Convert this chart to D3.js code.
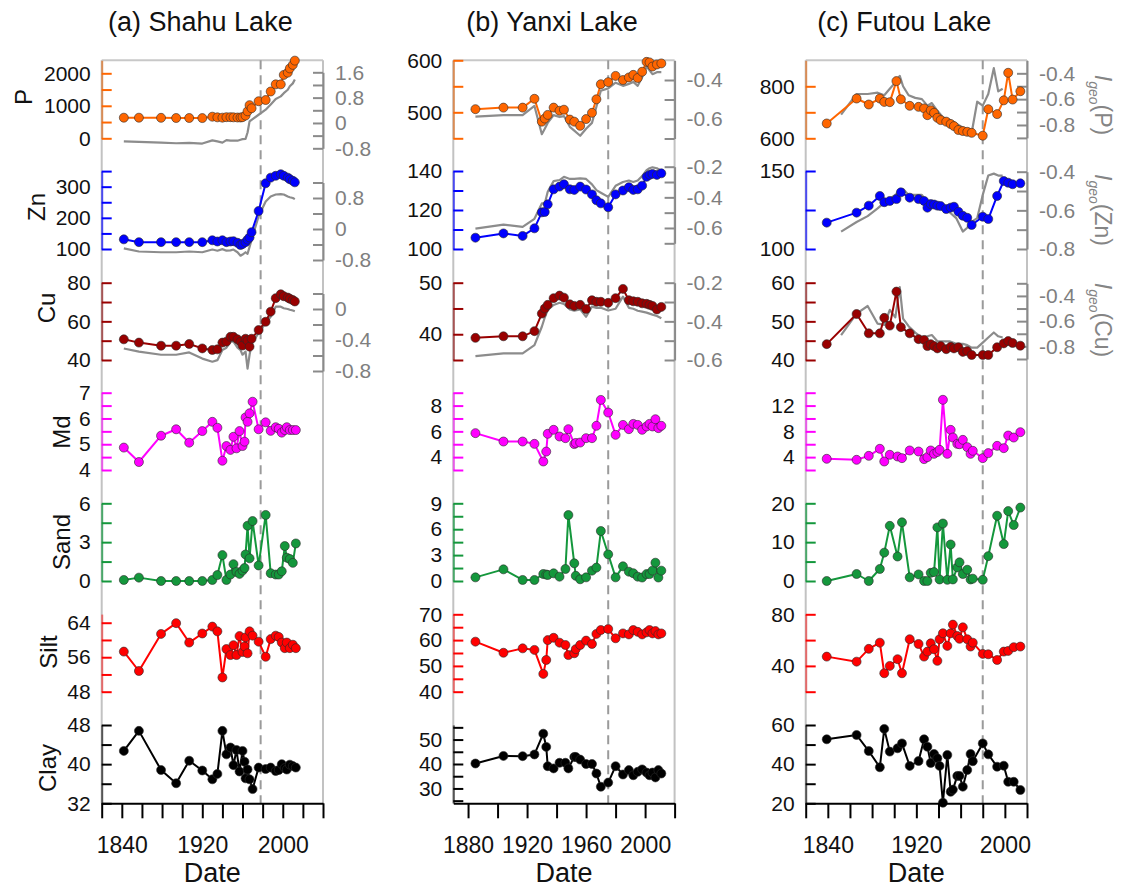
<!DOCTYPE html>
<html>
<head>
<meta charset="utf-8">
<script src="https://cdn.jsdelivr.net/npm/d3@7"></script>
<style>
  body { margin: 0; background: #fff; }
  svg text { font-family: "Liberation Sans", Arial, Helvetica, sans-serif; }
</style>
</head>
<body>
<svg id="chart" width="1126" height="890"></svg>
<script>
// ---------------- Shahu Lake ----------------
const shahuMetalYears = [1842, 1857, 1879, 1894, 1907, 1920, 1930, 1935, 1940, 1944, 1948, 1951, 1955, 1958, 1960, 1963, 1965, 1967, 1969, 1976, 1983, 1988, 1993, 1998, 2001, 2005, 2007, 2010, 2012];
const shahuP = [634, 634, 630, 625, 625, 622, 665, 645, 635, 650, 650, 645, 640, 640, 650, 700, 830, 1020, 925, 1140, 1178, 1440, 1660, 1660, 1950, 2020, 2150, 2260, 2390];
const shahuIgeoP = [-0.58, -0.6, -0.62, -0.64, -0.63, -0.65, -0.55, -0.58, -0.62, -0.54, -0.56, -0.56, -0.56, -0.53, -0.51, -0.5, -0.3, 0.05, 0.1, 0.26, 0.42, 0.58, 0.76, 0.84, 0.94, 1.05, 1.16, 1.25, 1.37];
const shahuZn = [131, 122, 122, 122, 122, 122, 128, 124, 128, 122, 124, 125, 120, 113, 116, 122, 130, 137, 154, 222, 311, 329, 335, 340, 335, 329, 324, 319, 314];
const shahuIgeoZn = [-0.5, -0.58, -0.6, -0.6, -0.58, -0.6, -0.53, -0.56, -0.52, -0.56, -0.55, -0.53, -0.6, -0.69, -0.66, -0.6, -0.64, -0.46, -0.28, 0.33, 0.71, 0.84, 0.89, 0.9, 0.89, 0.84, 0.82, 0.8, 0.77];
const shahuCu = [50.7, 49, 47.4, 47.4, 48.3, 46, 45.2, 45.5, 49, 49.5, 52, 52, 50.7, 49.4, 47.5, 51, 50, 46.9, 51, 55.5, 59.8, 65, 72, 74, 73, 72.3, 71.7, 71, 70.3];
const shahuIgeoCu = [-0.51, -0.55, -0.59, -0.59, -0.56, -0.64, -0.68, -0.66, -0.53, -0.5, -0.42, -0.42, -0.5, -0.53, -0.59, -0.55, -0.77, -0.59, -0.45, -0.31, -0.18, -0.1, 0.03, 0.03, 0.01, 0, -0.01, -0.02, -0.03];

const shahuGrainYears = [1842, 1857, 1879, 1894, 1907, 1920, 1930, 1935, 1940, 1944, 1948, 1951, 1954, 1957, 1960, 1962, 1963, 1965, 1967, 1970, 1976, 1983, 1988, 1993, 1996, 1999, 2002, 2004, 2007, 2010, 2013];
const shahuMd = [4.87, 4.31, 5.33, 5.58, 5.06, 5.51, 5.87, 5.64, 4.36, 4.93, 4.78, 5.29, 4.84, 5.51, 4.93, 5.1, 6.04, 5.87, 6.2, 6.65, 5.58, 5.85, 5.52, 5.66, 5.6, 5.45, 5.55, 5.66, 5.55, 5.55, 5.55];
const shahuSand = [0.08, 0.26, 0, 0, 0, 0, 0.08, 0.46, 2.0, 0.08, 0.5, 1.3, 0.7, 0.55, 0.8, 1.0, 2.05, 4.27, 1.75, 4.63, 1.2, 5.1, 0.6, 0.5, 0.5, 0.75, 2.7, 1.8, 1.7, 1.4, 2.9];
const shahuSilt = [57.3, 52.8, 61.4, 63.9, 59.4, 61.5, 63.1, 62, 51.3, 57.9, 56.5, 58.8, 56.5, 60.9, 57.2, 58.5, 60.6, 56.9, 62, 61, 59.6, 56.1, 60.2, 61, 60.7, 59.4, 58.1, 59.4, 58.1, 58.9, 58.1];
const shahuClay = [42.7, 46.8, 38.8, 36.1, 40.7, 38.7, 36.9, 38, 46.8, 42, 43.4, 39.8, 42.9, 38.5, 42.7, 40.5, 37.1, 38.9, 36.9, 34.9, 39.3, 39, 39.3, 38.6, 38.8, 40, 39.2, 38.9, 39.9, 39.6, 39.3];

// ---------------- Yanxi Lake ----------------
const yanxiMetalYears = [1885, 1904, 1917, 1925, 1930, 1932, 1934, 1938, 1942, 1945, 1949, 1952, 1956, 1960, 1964, 1967, 1970, 1975, 1980, 1985, 1989, 1992, 1995, 1998, 2001, 2003, 2005, 2008, 2011];
const yanxiP = [506, 509, 509, 526, 482, 488, 495, 509, 503, 505, 486, 482, 474, 487, 499, 525, 554, 558, 570, 562, 567, 572, 566, 578, 597, 596, 588, 592, 594];
const yanxiIgeoP = [-0.588, -0.58, -0.58, -0.533, -0.678, -0.65, -0.62, -0.58, -0.59, -0.585, -0.64, -0.66, -0.686, -0.65, -0.62, -0.537, -0.455, -0.443, -0.414, -0.43, -0.42, -0.41, -0.43, -0.386, -0.33, -0.35, -0.37, -0.36, -0.36];
const yanxiZn = [105.8, 108, 106.7, 110.6, 118.8, 119, 122.9, 130.6, 132, 133.2, 130.6, 130.3, 132, 130.5, 128, 125, 123.4, 121.4, 128, 130, 131.7, 130.3, 130.6, 132.5, 137, 138, 138.5, 138, 138.8];
const yanxiIgeoZn = [-0.604, -0.578, -0.593, -0.54, -0.44, -0.44, -0.364, -0.294, -0.287, -0.266, -0.28, -0.28, -0.276, -0.28, -0.315, -0.353, -0.37, -0.397, -0.325, -0.3, -0.29, -0.3, -0.29, -0.261, -0.222, -0.21, -0.204, -0.21, -0.228];
const yanxiCu = [39.3, 39.6, 39.6, 40.6, 44, 45, 45.7, 47, 47.5, 47.1, 45.8, 45.5, 45.7, 44.9, 46.6, 46.3, 46.3, 46.1, 47, 48.8, 46.6, 46.4, 46.3, 46, 45.9, 45.7, 45.5, 44.8, 45.3];
const yanxiIgeoCu = [-0.58, -0.566, -0.566, -0.523, -0.428, -0.38, -0.341, -0.315, -0.304, -0.31, -0.338, -0.345, -0.338, -0.376, -0.324, -0.33, -0.33, -0.344, -0.335, -0.272, -0.33, -0.335, -0.345, -0.35, -0.355, -0.36, -0.365, -0.372, -0.384];

const yanxiGrainYears = [1885, 1904, 1917, 1925, 1931, 1933, 1934, 1938, 1942, 1946, 1948, 1952, 1953, 1956, 1960, 1964, 1967, 1970, 1975, 1980, 1985, 1989, 1992, 1995, 1998, 2001, 2003, 2005, 2007, 2009, 2011];
const yanxiMd = [5.86, 5.21, 5.21, 5.03, 3.66, 4.43, 5.81, 6.12, 5.6, 5.47, 6.17, 5.01, 5.1, 5.13, 5.47, 5.47, 6.43, 8.44, 7.46, 5.73, 6.5, 6.17, 6.58, 6.5, 6.12, 6.38, 6.58, 6.38, 6.94, 6.25, 6.43];
const yanxiSand = [0.42, 1.35, 0.12, 0.12, 0.81, 0.75, 0.7, 0.89, 0.5, 1.39, 7.64, 2.05, 0.6, 0.2, 0.42, 1.2, 1.55, 5.79, 3.09, 0.42, 1.7, 1.08, 0.9, 0.5, 0.4, 0.8, 0.8, 1.2, 2.12, 0.4, 1.2];
const yanxiSilt = [59.4, 55.1, 56.8, 56.2, 46.9, 52.3, 60, 60.9, 59, 58.1, 54.2, 54.9, 56.5, 58.1, 59.8, 58.5, 62.4, 63.9, 64.3, 60.7, 62.6, 62.2, 63.9, 63.2, 62.2, 63, 63.9, 62.6, 63.5, 62.2, 62.6];
const yanxiClay = [40.2, 43.3, 43.2, 43.9, 52.4, 47, 39.1, 38.2, 40.5, 40.5, 38.2, 42.9, 42.9, 41.8, 40, 40, 36.1, 30.7, 32.4, 39.1, 35.7, 37.5, 35.4, 36.8, 37.8, 36.5, 35.4, 36.5, 34.5, 37.5, 36.1];

// ---------------- Futou Lake ----------------
const futouMetalYears = [1839, 1866, 1877, 1887, 1891, 1896, 1902, 1906, 1914, 1922, 1927, 1930, 1933, 1936, 1939, 1942, 1947, 1951, 1954, 1958, 1962, 1966, 1970, 1980, 1985, 1993, 1999, 2003, 2007, 2014];
const futouP = [657, 753, 730, 753, 740, 739, 820, 750, 725, 721, 715, 689, 708, 698, 679, 670, 664, 655, 647, 632, 628, 625, 621, 610, 712, 693, 746, 852, 749, 781];
const futouZn = [116.9, 123.3, 127.8, 134, 130, 130.8, 132, 136.3, 132.9, 132, 130.8, 126.5, 128.8, 128.5, 127.8, 127.5, 125.6, 126.5, 127.1, 123.9, 121.3, 120, 115.4, 120.7, 119.2, 134, 143.6, 142.5, 141.5, 142.1];
const futouCu = [44.1, 51.9, 46.9, 46.9, 50.9, 48.9, 57.7, 48.5, 46.9, 45.4, 45.2, 43.6, 44.1, 43.6, 43, 43.6, 42.8, 43.4, 43, 43.3, 42.1, 42.3, 41.3, 41.3, 41.3, 43.3, 44.3, 44.9, 44.4, 43.7];

const futouIgeoYears = [1852, 1866, 1876, 1885, 1891, 1896, 1901, 1905, 1908, 1913, 1919, 1925, 1930, 1934, 1939, 1944, 1950, 1956, 1962, 1966, 1970, 1975, 1980, 1985, 1990, 1994, 1998];
const futouIgeoP = [-0.72, -0.56, -0.56, -0.55, -0.57, -0.52, -0.47, -0.42, -0.5, -0.57, -0.59, -0.6, -0.65, -0.63, -0.69, -0.74, -0.76, -0.79, -0.82, -0.84, -0.86, -0.62, -0.65, -0.56, -0.36, -0.54, -0.52];
const futouIgeoZn = [-0.71, -0.66, -0.63, -0.59, -0.56, -0.54, -0.52, -0.5, -0.49, -0.52, -0.52, -0.52, -0.56, -0.56, -0.57, -0.58, -0.61, -0.64, -0.71, -0.69, -0.66, -0.64, -0.52, -0.42, -0.41, -0.42, -0.42];
const futouIgeoCu = [-0.71, -0.54, -0.48, -0.62, -0.63, -0.51, -0.57, -0.33, -0.58, -0.64, -0.69, -0.73, -0.72, -0.71, -0.76, -0.76, -0.76, -0.78, -0.78, -0.79, -0.81, -0.81, -0.77, -0.73, -0.69, -0.72, -0.73];

const futouGrainYears = [1839, 1866, 1877, 1887, 1891, 1896, 1903, 1907, 1914, 1922, 1927, 1930, 1933, 1936, 1939, 1941, 1944, 1948, 1951, 1953, 1957, 1959, 1962, 1966, 1969, 1971, 1980, 1985, 1993, 1999, 2003, 2008, 2014];
const futouMd = [3.74, 3.58, 4.2, 5.29, 3.32, 4.36, 4.1, 3.84, 5.03, 4.87, 3.69, 4.0, 5.03, 4.51, 4.8, 5.13, 12.9, 4.51, 8.23, 7.04, 6.06, 6.0, 6.68, 5.55, 4.51, 4.98, 3.84, 4.62, 5.75, 5.39, 7.35, 7.04, 7.87];
const futouSand = [0, 1.8, 0, 3.1, 7.3, 14.2, 6.3, 15.1, 0.94, 1.7, 0, 0, 2.1, 2.3, 13.8, 0.4, 14.8, 0.3, 9.4, 0.4, 3.5, 4.8, 1.8, 2.9, 0.4, 0.6, 0.3, 6.4, 16.8, 9.5, 18, 14.4, 18.9];
const futouSilt = [47.2, 43.3, 53.2, 58, 34.3, 40, 45.2, 34.3, 60.7, 57, 47.2, 51.1, 57.5, 52.9, 43.9, 60.7, 65.3, 55.5, 65.3, 72, 63.2, 61, 69.9, 60.7, 55, 58, 49.3, 49, 44.6, 51.1, 51.6, 54.5, 55];
const futouClay = [52.7, 54.9, 46.7, 38.4, 58, 46.4, 48.1, 50.6, 39.1, 41.6, 52.7, 48.9, 40.6, 45.2, 43, 39.1, 20.3, 44.7, 25.9, 27, 34, 34, 28.5, 37, 45.2, 41.5, 50.6, 45, 38.7, 39.2, 31, 31, 26.8];

// Reference years marked with a dashed line, and x-axis settings
const lakeTitles = ["(a) Shahu Lake", "(b) Yanxi Lake", "(c) Futou Lake"];
const dashYears = [1978, 1975, 1980];
const xDomains = [[1820, 2040], [1870, 2020], [1820, 2020]];
const xTickValues = [d3.range(1820, 2041, 20), d3.range(1880, 2021, 20), d3.range(1820, 2021, 20)];
const xTickLabels = [[1840, 1920, 2000], [1880, 1920, 1960, 2000], [1840, 1920, 2000]];
const rowNames = ["P", "Zn", "Cu", "Md", "Sand", "Silt", "Clay"];
const igeoNames = ["P", "Zn", "Cu"];

// ---------------- layout ----------------
const COLORS = { P: "#ff6600", Zn: "#0000ff", Cu: "#990000", Md: "#ff00ff", Sand: "#14973c", Silt: "#ff0000", Clay: "#000000" };
const AXIS_COLORS = { P: "#d98c55", Zn: "#4a4af0", Cu: "#a65555", Md: "#e85ce8", Sand: "#4aa86a", Silt: "#e46a6a", Clay: "#555555" };
const GREY = "#8a8a8a";
const panelLefts = [101.7, 453.3, 805.7];
const panelW = 221.3;
const topY = 60.3, baseY = 803.3;

// left-axis layout per panel: value extent, pixel extent, tick [lo, hi, step], label spacing
const leftAxes = [
  {
    P:    { dom: [0, 2400], rng: [138.3, 60.3], t: [0, 2000, 500], lab: 1000 },
    Zn:   { dom: [100, 350], rng: [249, 171.1], t: [100, 350, 50], lab: 100 },
    Cu:   { dom: [40, 80], rng: [360, 282.7], t: [40, 80, 10], lab: 20 },
    Md:   { dom: [4, 7], rng: [470, 392.7], t: [4, 7, 0.5], lab: 1 },
    Sand: { dom: [0, 6], rng: [581, 503.3], t: [0, 6, 1.5], lab: 3 },
    Silt: { dom: [48, 66], rng: [691.7, 614.1], t: [48, 64, 4], lab: 8 },
    Clay: { dom: [32, 48], rng: [803.3, 725], t: [32, 48, 4], lab: 8 }
  },
  {
    P:    { dom: [450, 600], rng: [138.3, 60.3], t: [450, 600, 50], lab: 100 },
    Zn:   { dom: [100, 140], rng: [249, 171], t: [100, 140, 10], lab: 20 },
    Cu:   { dom: [35, 50], rng: [360, 282.7], t: [35, 50, 5], lab: 10 },
    Md:   { dom: [3, 9], rng: [470, 392.7], t: [3, 9, 1], lab: 2 },
    Sand: { dom: [0, 9], rng: [581, 503.3], t: [0, 9, 1.5], lab: 3 },
    Silt: { dom: [40, 70], rng: [691.7, 614.3], t: [40, 70, 5], lab: 10 },
    Clay: { dom: [24, 56], rng: [803.1, 724.9], t: [25, 55, 5], lab: 10 }
  },
  {
    P:    { dom: [600, 900], rng: [138.3, 60.3], t: [600, 800, 100], lab: 200 },
    Zn:   { dom: [100, 150], rng: [249, 171], t: [100, 150, 25], lab: 50 },
    Cu:   { dom: [40, 60], rng: [360, 282.7], t: [40, 60, 5], lab: 10 },
    Md:   { dom: [2, 14], rng: [470, 392.7], t: [2, 14, 2], lab: 4 },
    Sand: { dom: [0, 20], rng: [581, 503.3], t: [0, 20, 5], lab: 10 },
    Silt: { dom: [20, 80], rng: [691.7, 614.3], t: [20, 80, 20], lab: 40 },
    Clay: { dom: [20, 60], rng: [803.3, 725], t: [20, 60, 10], lab: 20 }
  }
];
const rightAxes = [
  {
    P:  { dom: [-0.8, 1.6], rng: [148.3, 72.3], t: [-0.8, 1.6, 0.4], lab: 0.8 },
    Zn: { dom: [-0.8, 1.2], rng: [260, 182.5], t: [-0.8, 1.2, 0.4], lab: 0.8 },
    Cu: { dom: [-0.8, 0.2], rng: [371, 293.5], t: [-0.8, 0.2, 0.2], lab: 0.4 }
  },
  {
    P:  { dom: [-0.7, -0.3], rng: [138.5, 60.5], t: [-0.7, -0.4, 0.1], lab: 0.2 },
    Zn: { dom: [-0.7, -0.2], rng: [243.3, 166.7], t: [-0.7, -0.2, 0.1], lab: 0.2 },
    Cu: { dom: [-0.6, -0.2], rng: [360, 282.7], t: [-0.6, -0.2, 0.1], lab: 0.2 }
  },
  {
    P:  { dom: [-0.9, -0.3], rng: [137.9, 60.4], t: [-0.9, -0.4, 0.1], lab: 0.2 },
    Zn: { dom: [-0.8, -0.4], rng: [249, 171.7], t: [-0.8, -0.4, 0.1], lab: 0.2 },
    Cu: { dom: [-0.9, -0.3], rng: [359, 283.3], t: [-0.9, -0.3, 0.1], lab: 0.2 }
  }
];

const lakes = [
  { metalYears: shahuMetalYears, igeoYears: shahuMetalYears, grainYears: shahuGrainYears,
    series: { P: shahuP, Zn: shahuZn, Cu: shahuCu, Md: shahuMd, Sand: shahuSand, Silt: shahuSilt, Clay: shahuClay },
    igeo: { P: shahuIgeoP, Zn: shahuIgeoZn, Cu: shahuIgeoCu } },
  { metalYears: yanxiMetalYears, igeoYears: yanxiMetalYears, grainYears: yanxiGrainYears,
    series: { P: yanxiP, Zn: yanxiZn, Cu: yanxiCu, Md: yanxiMd, Sand: yanxiSand, Silt: yanxiSilt, Clay: yanxiClay },
    igeo: { P: yanxiIgeoP, Zn: yanxiIgeoZn, Cu: yanxiIgeoCu } },
  { metalYears: futouMetalYears, igeoYears: futouIgeoYears, grainYears: futouGrainYears,
    series: { P: futouP, Zn: futouZn, Cu: futouCu, Md: futouMd, Sand: futouSand, Silt: futouSilt, Clay: futouClay },
    igeo: { P: futouIgeoP, Zn: futouIgeoZn, Cu: futouIgeoCu } }
];

// ---------------- helpers ----------------
function tickList(lo, hi, step) {
  const n = Math.round((hi - lo) / step);
  return d3.range(n + 1).map(i => +(lo + i * step).toFixed(4));
}
function isLabelled(v, every) {
  const q = v / every;
  return Math.abs(q - Math.round(q)) < 1e-6;
}
function fmt(v) {
  const r = Math.round(v * 100) / 100;
  return String(r === 0 ? 0 : r);
}

const svg = d3.select("#chart");

lakes.forEach((lake, pi) => {
  const left = panelLefts[pi], right = left + panelW;
  const x = d3.scaleLinear().domain(xDomains[pi]).range([left, right]);
  const g = svg.append("g").attr("class", "panel");

  // frame
  g.append("line").attr("x1", left).attr("x2", right).attr("y1", topY).attr("y2", topY)
    .attr("stroke", "#c8c8c8").attr("stroke-width", 2);
  [left, right].forEach(px => g.append("line").attr("x1", px).attr("x2", px)
    .attr("y1", topY).attr("y2", baseY).attr("stroke", "#c2c2c2").attr("stroke-width", 2));

  // dashed reference year
  g.append("line").attr("x1", x(dashYears[pi])).attr("x2", x(dashYears[pi]))
    .attr("y1", topY).attr("y2", baseY)
    .attr("stroke", "#9a9a9a").attr("stroke-width", 2).attr("stroke-dasharray", "9,6");

  // title
  svg.append("text").attr("x", left + panelW / 2 - 12).attr("y", 31)
    .attr("text-anchor", "middle").style("font-size", "27px").attr("fill", "#111")
    .text(lakeTitles[pi]);

  // right (Igeo) axes and grey lines
  igeoNames.forEach(name => {
    const c = rightAxes[pi][name];
    const y2 = d3.scaleLinear().domain(c.dom).range(c.rng);
    const ax = d3.axisRight(y2).tickValues(tickList(...c.t)).tickSizeInner(-10).tickSizeOuter(0)
      .tickPadding(12).tickFormat(v => isLabelled(v, c.lab) ? fmt(v) : "");
    const ag = g.append("g").attr("transform", `translate(${right},0)`).call(ax);
    ag.select(".domain").attr("stroke", GREY).attr("stroke-width", 2);
    ag.selectAll(".tick line").attr("stroke", GREY).attr("stroke-width", 2);
    ag.selectAll(".tick text").attr("fill", "#7f7f7f").style("font-size", "21px");

    const pts = lake.igeoYears.map((yr, i) => [yr, lake.igeo[name][i]]);
    g.append("path").datum(pts)
      .attr("d", d3.line().x(d => x(d[0])).y(d => y2(d[1])))
      .attr("fill", "none").attr("stroke", "#8c8c8c").attr("stroke-width", 2.2)
      .attr("stroke-linejoin", "round");
  });

  // left axes and coloured series
  rowNames.forEach(name => {
    const c = leftAxes[pi][name];
    const y = d3.scaleLinear().domain(c.dom).range(c.rng);
    const ax = d3.axisLeft(y).tickValues(tickList(...c.t)).tickSizeInner(-10).tickSizeOuter(0)
      .tickPadding(11).tickFormat(v => isLabelled(v, c.lab) ? fmt(v) : "");
    const ag = g.append("g").attr("transform", `translate(${left},0)`).call(ax);
    ag.select(".domain").attr("stroke", AXIS_COLORS[name]).attr("stroke-width", 2);
    ag.selectAll(".tick line").attr("stroke", COLORS[name]).attr("stroke-width", 2);
    ag.selectAll(".tick text").attr("fill", "#111").style("font-size", "21px");

    const years = ["P", "Zn", "Cu"].includes(name) ? lake.metalYears : lake.grainYears;
    const pts = years.map((yr, i) => [yr, lake.series[name][i]]);
    g.append("path").datum(pts)
      .attr("d", d3.line().x(d => x(d[0])).y(d => y(d[1])))
      .attr("fill", "none").attr("stroke", COLORS[name]).attr("stroke-width", 2)
      .attr("stroke-linejoin", "round");
    g.selectAll(null).data(pts).enter().append("circle")
      .attr("cx", d => x(d[0])).attr("cy", d => y(d[1])).attr("r", 4.5)
      .attr("fill", COLORS[name]).attr("stroke", "#2a2a2a").attr("stroke-width", 0.6);
  });

  // bottom date axis
  const xa = d3.axisBottom(x).tickValues(xTickValues[pi]).tickSize(15).tickSizeOuter(0)
    .tickPadding(18).tickFormat(v => xTickLabels[pi].includes(v) ? String(v) : "");
  const xg = g.append("g").attr("transform", `translate(0,${baseY})`).call(xa);
  xg.select(".domain").attr("stroke", "#000").attr("stroke-width", 2);
  xg.selectAll(".tick line").attr("stroke", "#000").attr("stroke-width", 2);
  xg.selectAll(".tick text").attr("fill", "#111").style("font-size", "23px");

  svg.append("text").attr("x", left + panelW / 2).attr("y", 882)
    .attr("text-anchor", "middle").style("font-size", "27px").attr("fill", "#111").text("Date");
});

// variable names on the left of panel (a)
const yLabelPos = { P: [32, 97], Zn: [45, 207], Cu: [55, 308], Md: [70, 432], Sand: [70, 542], Silt: [57, 652], Clay: [56, 768] };
rowNames.forEach(name => {
  const [bx, cy] = yLabelPos[name];
  svg.append("text").attr("transform", `translate(${bx},${cy}) rotate(-90)`)
    .attr("text-anchor", "middle").style("font-size", "24px").attr("fill", "#111").text(name);
});

// Igeo labels on the right of panel (c)
const igeoLabelY = { P: 105, Zn: 210, Cu: 320 };
igeoNames.forEach(name => {
  const t = svg.append("text").attr("transform", `translate(1095,${igeoLabelY[name]}) rotate(90)`)
    .attr("text-anchor", "middle").style("font-size", "23px").attr("fill", "#858585");
  t.append("tspan").attr("font-style", "italic").text("I");
  t.append("tspan").attr("font-style", "italic").style("font-size", "14px").attr("dy", 6).text("geo");
  t.append("tspan").attr("dy", -6).text(`(${name})`);
});
</script>
</body>
</html>
